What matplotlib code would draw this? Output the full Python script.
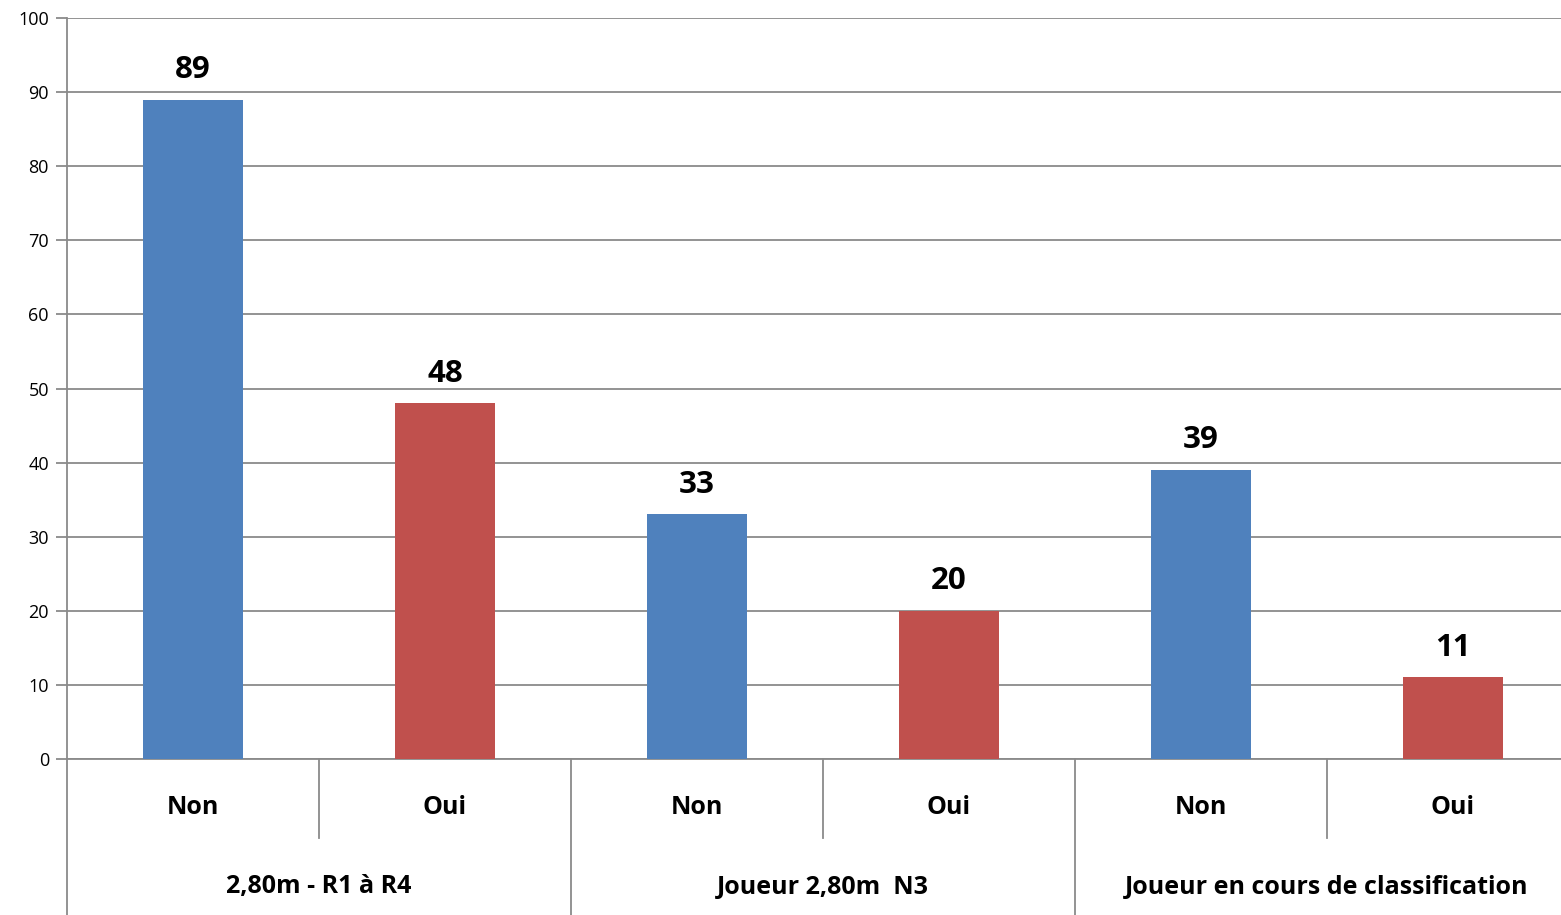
import matplotlib.pyplot as plt
import numpy as np

plt.rcParams['font.family'] = ['Open Sans', 'DejaVu Sans']

# data
sub_labels = ["Non", "Oui", "Non", "Oui", "Non", "Oui"]
group_labels = ["2,80m - R1 à R4", "Joueur 2,80m  N3", "Joueur en cours de classification"]
values = [89, 48, 33, 20, 39, 11]
colors = ["#4F81BD", "#C0504D", "#4F81BD", "#C0504D", "#4F81BD", "#C0504D"]

grey = "#8a8a8a"

fig = plt.figure(figsize=(15.61, 9.15), dpi=100)
# the plot area runs a little past the right edge of the picture
ax = fig.add_axes([67/1561, 1-759/915, 1512/1561, (759-18)/915])

x = np.arange(len(values))
bars = ax.bar(x, values, width=0.395, color=colors, zorder=3)

for xi, v in zip(x, values):
    ax.text(xi, v + 2.0, str(v), ha='center', va='bottom',
            fontsize=22.5, fontweight='bold', color='black')

ax.set_xlim(-0.5, len(values) - 0.5)
ax.set_ylim(0, 100)
ax.set_yticks(np.arange(0, 101, 10))
ax.tick_params(axis='y', length=8, width=1.3, color=grey, labelsize=13, pad=5)
ax.tick_params(axis='x', length=0, labelbottom=False)
ax.yaxis.grid(True, color=grey, linewidth=1.3, zorder=0)

for s in ['top', 'right']:
    ax.spines[s].set_visible(False)
ax.spines['bottom'].set_color(grey)
ax.spines['bottom'].set_linewidth(1.3)
ax.spines['left'].set_visible(False)

trans = ax.get_xaxis_transform()
ax_h = 759 - 18
y_sub = -(838 - 759) / ax_h
y_bot = -(915 - 759) / ax_h

# left axis line extended down through the category area
ax.plot([-0.5, -0.5], [1, y_bot], transform=trans, color=grey, lw=1.3, clip_on=False)
# separators
for i in range(1, len(values)):
    yb = y_bot if i % 2 == 0 else y_sub
    ax.plot([i - 0.5, i - 0.5], [0, yb], transform=trans, color=grey, lw=1.3, clip_on=False)

# sub labels
for xi, lab in zip(x, sub_labels):
    ax.text(xi, -(807 - 759) / ax_h, lab, transform=trans, ha='center', va='center',
            fontsize=18, fontweight='bold')
# group labels
for g, lab in enumerate(group_labels):
    ax.text(2 * g + 0.5, -(887 - 759) / ax_h, lab, transform=trans, ha='center', va='center',
            fontsize=18, fontweight='bold')

fig.savefig("out.png", dpi=100)
